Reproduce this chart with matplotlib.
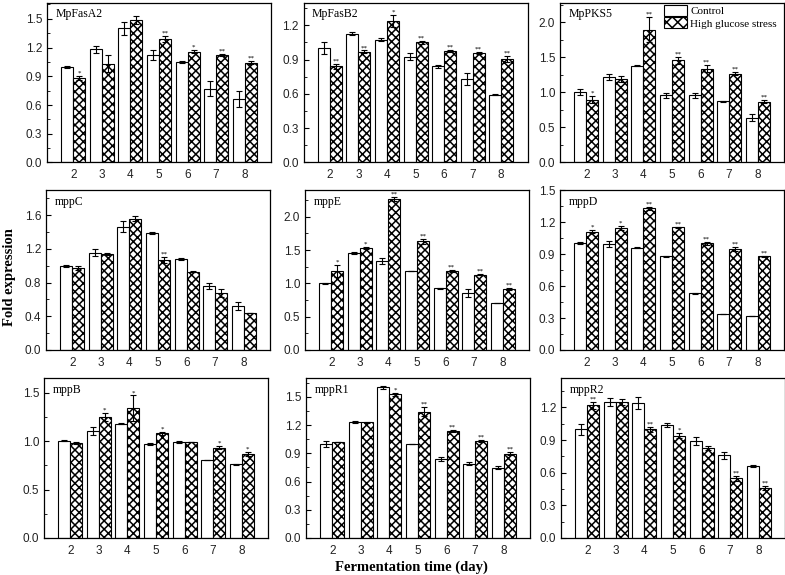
import matplotlib
matplotlib.use("Agg")
import matplotlib.pyplot as plt
from matplotlib.patches import Patch
from matplotlib.ticker import MultipleLocator, FormatStrFormatter
import numpy as np

plt.rcParams['hatch.linewidth'] = 1.1

days = [2, 3, 4, 5, 6, 7, 8]
genes = ["MpFasA2", "MpFasB2", "MpPKS5", "mppC", "mppE", "mppD", "mppB", "mppR1", "mppR2"]

ctrl_MpFasA2 = [1.00, 1.18, 1.40, 1.12, 1.05, 0.77, 0.66]
ctrl_err_MpFasA2 = [0.01, 0.04, 0.065, 0.05, 0.01, 0.08, 0.085]
hgs_MpFasA2 = [0.88, 1.03, 1.49, 1.29, 1.155, 1.12, 1.04]
hgs_err_MpFasA2 = [0.02, 0.09, 0.04, 0.03, 0.015, 0.01, 0.015]
sig_MpFasA2 = ["*", "", "", "**", "*", "**", "**"]

ctrl_MpFasB2 = [1.00, 1.128, 1.076, 0.925, 0.84, 0.73, 0.593]
ctrl_err_MpFasB2 = [0.05, 0.01, 0.01, 0.03, 0.01, 0.055, 0.005]
hgs_MpFasB2 = [0.84, 0.97, 1.24, 1.05, 0.975, 0.957, 0.905]
hgs_err_MpFasB2 = [0.02, 0.01, 0.05, 0.01, 0.01, 0.01, 0.03]
sig_MpFasB2 = ["**", "**", "*", "**", "**", "**", "**"]

ctrl_MpPKS5 = [1.007, 1.22, 1.38, 0.955, 0.955, 0.874, 0.637]
ctrl_err_MpPKS5 = [0.04, 0.04, 0.01, 0.04, 0.04, 0.005, 0.05]
hgs_MpPKS5 = [0.893, 1.19, 1.89, 1.454, 1.335, 1.264, 0.865]
hgs_err_MpPKS5 = [0.05, 0.04, 0.18, 0.05, 0.05, 0.02, 0.02]
sig_MpPKS5 = ["*", "", "**", "**", "**", "**", "**"]

ctrl_mppC = [1.00, 1.154, 1.466, 1.39, 1.079, 0.763, 0.52]
ctrl_err_mppC = [0.01, 0.04, 0.07, 0.01, 0.015, 0.035, 0.05]
hgs_mppC = [0.972, 1.138, 1.56, 1.07, 0.928, 0.68, 0.435]
hgs_err_mppC = [0.02, 0.01, 0.03, 0.04, 0.005, 0.05, 0.0]
sig_mppC = ["", "", "", "**", "", "", ""]

ctrl_mppE = [1.00, 1.455, 1.335, 1.185, 0.925, 0.85, 0.705]
ctrl_err_mppE = [0.005, 0.01, 0.05, 0.0, 0.005, 0.06, 0.005]
hgs_mppE = [1.18, 1.53, 2.27, 1.63, 1.185, 1.13, 0.92]
hgs_err_mppE = [0.09, 0.02, 0.03, 0.04, 0.02, 0.01, 0.015]
sig_mppE = ["*", "*", "**", "**", "**", "**", "**"]

ctrl_mppD = [1.00, 0.995, 0.96, 0.88, 0.53, 0.34, 0.32]
ctrl_err_mppD = [0.01, 0.03, 0.005, 0.005, 0.005, 0.0, 0.0]
hgs_mppD = [1.11, 1.144, 1.33, 1.15, 1.00, 0.95, 0.88]
hgs_err_mppD = [0.015, 0.015, 0.015, 0.005, 0.015, 0.02, 0.005]
sig_mppD = ["*", "*", "**", "**", "**", "**", "**"]

ctrl_mppB = [1.002, 1.105, 1.178, 0.97, 0.99, 0.80, 0.76]
ctrl_err_mppB = [0.005, 0.04, 0.005, 0.01, 0.01, 0.0, 0.005]
hgs_mppB = [0.98, 1.25, 1.34, 1.078, 0.99, 0.93, 0.865]
hgs_err_mppB = [0.01, 0.04, 0.13, 0.015, 0.005, 0.015, 0.02]
sig_mppB = ["", "*", "*", "*", "", "*", "*"]

ctrl_mppR1 = [1.00, 1.23, 1.60, 0.995, 0.84, 0.79, 0.747]
ctrl_err_mppR1 = [0.03, 0.01, 0.015, 0.0, 0.025, 0.015, 0.015]
hgs_mppR1 = [1.02, 1.23, 1.525, 1.344, 1.138, 1.03, 0.896]
hgs_err_mppR1 = [0.005, 0.005, 0.02, 0.05, 0.01, 0.01, 0.015]
sig_mppR1 = ["", "", "*", "**", "**", "**", "**"]

ctrl_mppR2 = [1.00, 1.25, 1.243, 1.04, 0.892, 0.76, 0.66]
ctrl_err_mppR2 = [0.05, 0.035, 0.055, 0.02, 0.04, 0.03, 0.01]
hgs_mppR2 = [1.218, 1.25, 0.997, 0.94, 0.825, 0.548, 0.46]
hgs_err_mppR2 = [0.03, 0.03, 0.02, 0.025, 0.02, 0.02, 0.015]
sig_mppR2 = ["**", "", "**", "*", "", "**", "**"]

data = {
    "MpFasA2": (ctrl_MpFasA2, ctrl_err_MpFasA2, hgs_MpFasA2, hgs_err_MpFasA2, sig_MpFasA2),
    "MpFasB2": (ctrl_MpFasB2, ctrl_err_MpFasB2, hgs_MpFasB2, hgs_err_MpFasB2, sig_MpFasB2),
    "MpPKS5": (ctrl_MpPKS5, ctrl_err_MpPKS5, hgs_MpPKS5, hgs_err_MpPKS5, sig_MpPKS5),
    "mppC": (ctrl_mppC, ctrl_err_mppC, hgs_mppC, hgs_err_mppC, sig_mppC),
    "mppE": (ctrl_mppE, ctrl_err_mppE, hgs_mppE, hgs_err_mppE, sig_mppE),
    "mppD": (ctrl_mppD, ctrl_err_mppD, hgs_mppD, hgs_err_mppD, sig_mppD),
    "mppB": (ctrl_mppB, ctrl_err_mppB, hgs_mppB, hgs_err_mppB, sig_mppB),
    "mppR1": (ctrl_mppR1, ctrl_err_mppR1, hgs_mppR1, hgs_err_mppR1, sig_mppR1),
    "mppR2": (ctrl_mppR2, ctrl_err_mppR2, hgs_mppR2, hgs_err_mppR2, sig_mppR2),
}

# layout (pixels): left, top, ytop, ystep
layout = {
    "MpFasA2": (47, 2.5, 1.67, 0.3),
    "MpFasB2": (303.5, 2.5, 1.40, 0.3),
    "MpPKS5": (560, 2.5, 2.28, 0.5),
    "mppC": (46, 190, 1.90, 0.4),
    "mppE": (305, 190, 2.40, 0.5),
    "mppD": (560, 190, 1.50, 0.3),
    "mppB": (44, 378, 1.65, 0.5),
    "mppR1": (306, 378, 1.70, 0.3),
    "mppR2": (561, 378, 1.47, 0.3),
}

W, H = 785, 575
fig = plt.figure(figsize=(W / 100, H / 100), dpi=100)
fig.patch.set_facecolor("white")

pw, ph = 224, 160
bw = 0.42
serif = "Liberation Serif"
sans = "Liberation Sans"

for g in genes:
    left, top, ytop, ystep = layout[g]
    ax = fig.add_axes([left / W, 1 - (top + ph) / H, pw / W, ph / H])
    c, ce, h, he, sig = data[g]
    x = np.array(days, dtype=float)
    ax.bar(x - bw / 2, c, width=bw, color="white", edgecolor="black", linewidth=0.8, zorder=2)
    ax.bar(x + bw / 2, h, width=bw, color="white", edgecolor="black", linewidth=0.8,
           hatch="xxxx", zorder=2)
    ax.errorbar(x - bw / 2, c, yerr=ce, fmt="none", ecolor="black", elinewidth=0.8,
                capsize=2, capthick=0.8, zorder=3)
    ax.errorbar(x + bw / 2, h, yerr=he, fmt="none", ecolor="black", elinewidth=0.8,
                capsize=2, capthick=0.8, zorder=3)
    for xi, yi, ei, s in zip(x, h, he, sig):
        if s:
            ax.annotate(s, xy=(xi + bw / 2, yi + ei), xytext=(0, 0.2), textcoords="offset points",
                        ha="center", va="bottom", fontsize=5, family=serif)
    ax.set_xlim(1.08, 8.92)
    ax.set_ylim(0, ytop)
    ax.set_xticks(days)
    ax.yaxis.set_major_locator(MultipleLocator(ystep))
    ax.yaxis.set_minor_locator(MultipleLocator(ystep / 2))
    ax.yaxis.set_major_formatter(FormatStrFormatter("%.1f"))
    ax.tick_params(axis="both", which="both", direction="in", labelsize=8.5)
    ax.tick_params(axis="y", which="major", length=3.5, width=0.8)
    ax.tick_params(axis="y", which="minor", length=2, width=0.6)
    ax.tick_params(axis="x", which="major", length=0, pad=5)
    for lbl in ax.get_xticklabels() + ax.get_yticklabels():
        lbl.set_family(sans)
        lbl.set_color("#222222")
    for sp in ax.spines.values():
        sp.set_linewidth(0.9)
    ax.annotate(g, xy=(0, 1), xycoords="axes fraction", xytext=(6, -4),
                textcoords="offset points", ha="left", va="top", fontsize=8.5, family=serif)
    if g == "MpPKS5":
        handles = [Patch(facecolor="white", edgecolor="black", linewidth=0.8, label="Control"),
                   Patch(facecolor="white", edgecolor="black", linewidth=0.8, hatch="xxx",
                         label="High glucose stress")]
        ax.legend(handles=handles, loc="upper left", bbox_to_anchor=((661 - 560) / pw, 1.0),
                  frameon=False, prop={"family": serif, "size": 8}, handlelength=2.1,
                  handleheight=1.1, handletextpad=0.3, labelspacing=0.1, borderpad=0.25,
                  borderaxespad=0.0)

fig.text(10 / W, 1 - 277 / H, "Fold expression", rotation=90, ha="center", va="center",
         fontsize=10.5, fontweight="bold", family=serif)
fig.text(411 / W, 1 - 567 / H, "Fermentation time (day)", ha="center", va="center",
         fontsize=10.5, fontweight="bold", family=serif)

fig.savefig("out.png", dpi=100, facecolor="white")
